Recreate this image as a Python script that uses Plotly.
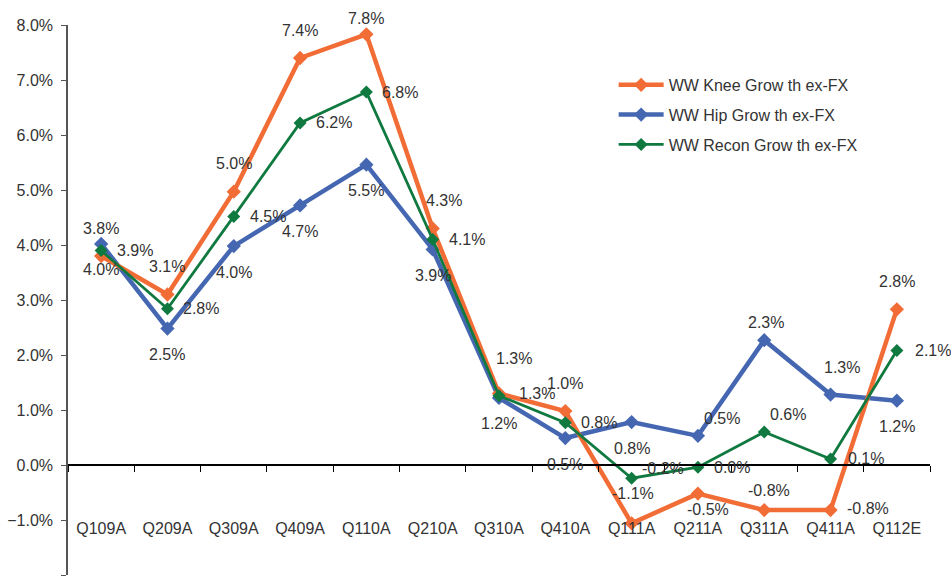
import plotly.graph_objects as go

categories = ["Q109A", "Q209A", "Q309A", "Q409A", "Q110A", "Q210A", "Q310A",
              "Q410A", "Q111A", "Q211A", "Q311A", "Q411A", "Q112E"]
knee = [3.8, 3.1, 4.97, 7.4, 7.83, 4.3, 1.3, 0.98, -1.06, -0.52, -0.82, -0.82, 2.83]
hip = [4.02, 2.48, 3.98, 4.72, 5.46, 3.92, 1.22, 0.49, 0.78, 0.53, 2.27, 1.28, 1.17]
recon = [3.9, 2.84, 4.52, 6.22, 6.78, 4.1, 1.26, 0.77, -0.24, -0.04, 0.6, 0.11, 2.08]

def labels(vals):
    out = []
    for v in vals:
        s = f"{v:.1f}"
        if s == "-0.0":
            s = "0.0"
        out.append(s + "%")
    return out

# label placement styles: (pixel dx, pixel dy downward, x-anchor)
knee_off = [(0, -28, "center")] * 13
knee_off[4] = (0, -16, "center")
knee_off[5] = (11, -28, "center")
knee_off[6] = (15, -35, "center")
knee_off[8] = (1, -30, "center")
knee_off[9] = (10, 16, "center")
knee_off[10] = (5, -20, "center")
knee_off[11] = (14, -2, "left")
hip_off = [(0, 26, "center")] * 13
hip_off[9] = (24, -17, "center")
hip_off[10] = (2, -18, "center")
hip_off[11] = (11, -27, "center")
recon_off = [(14, 0, "left")] * 13
recon_off[6] = (18, -2, "left")
recon_off[8] = (8, -10, "left")
recon_off[10] = (24, -18, "center")
recon_off[11] = (15, 0, "left")
recon_off[12] = (16, 0, "left")

ORANGE = "#F26C36"
BLUE = "#4567B2"
GREEN = "#10793F"
TXT = "#333333"
FONT = "Liberation Sans, Arial, sans-serif"
FS = 16

fig = go.Figure()
fig.add_trace(go.Scatter(
    x=categories, y=hip, name="WW Hip Grow th ex-FX", mode="lines+markers",
    line=dict(color=BLUE, width=4.5), marker=dict(symbol="diamond", size=11, color=BLUE),
    legendrank=2, legendgroup="b", cliponaxis=False))
fig.add_trace(go.Scatter(
    x=categories, y=knee, name="WW Knee Grow th ex-FX", mode="lines+markers",
    line=dict(color=ORANGE, width=4.5), marker=dict(symbol="diamond", size=11, color=ORANGE),
    legendrank=1, legendgroup="a", cliponaxis=False))
fig.add_trace(go.Scatter(
    x=categories, y=recon, name="WW Recon Grow th ex-FX", mode="lines+markers",
    line=dict(color=GREEN, width=2.8), marker=dict(symbol="diamond", size=10, color=GREEN),
    legendrank=3, legendgroup="c", cliponaxis=False))

annotations = []
for series, offs in ((knee, knee_off), (hip, hip_off), (recon, recon_off)):
    for cat, val, txt, (dx, dy, anc) in zip(categories, series, labels(series), offs):
        annotations.append(dict(
            x=cat, y=val, xref="x", yref="y", text=txt, showarrow=False,
            xanchor=anc, yanchor="middle", xshift=dx, yshift=-dy,
            font=dict(size=FS, color=TXT, family=FONT)))

fig.update_layout(
    width=951, height=582,
    margin=dict(l=68, r=21, t=25, b=7, autoexpand=False),
    paper_bgcolor="white", plot_bgcolor="white",
    font=dict(family=FONT, size=FS, color=TXT),
    showlegend=True,
    annotations=annotations,
    legend=dict(x=0.633, y=0.922, xanchor="left", yanchor="top",
                font=dict(size=FS, color=TXT), tracegroupgap=6, itemwidth=45,
                bgcolor="rgba(0,0,0,0)"),
    xaxis=dict(
        type="category", anchor="free", position=0.2, automargin=False,
        range=[-0.5, len(categories) - 0.5],
        showline=True, linecolor="black", linewidth=1.5,
        ticks="outside", ticklen=6, tickcolor="black", tickson="boundaries",
        ticklabelstandoff=49, showgrid=False, zeroline=False,
        tickfont=dict(size=FS, color=TXT)),
    yaxis=dict(
        range=[-2, 8], dtick=1, tickformat=".1f", ticksuffix="%", automargin=False,
        showline=True, linecolor="#555555", linewidth=1.5,
        ticks="outside", ticklen=5, tickcolor="#555555", ticklabelstandoff=5,
        showgrid=False, zeroline=False,
        tickfont=dict(size=FS, color=TXT)),
)

fig.write_html("out.html", config={"displayModeBar": False},
               post_script="document.body.style.margin='0';document.body.style.overflow='hidden';")
